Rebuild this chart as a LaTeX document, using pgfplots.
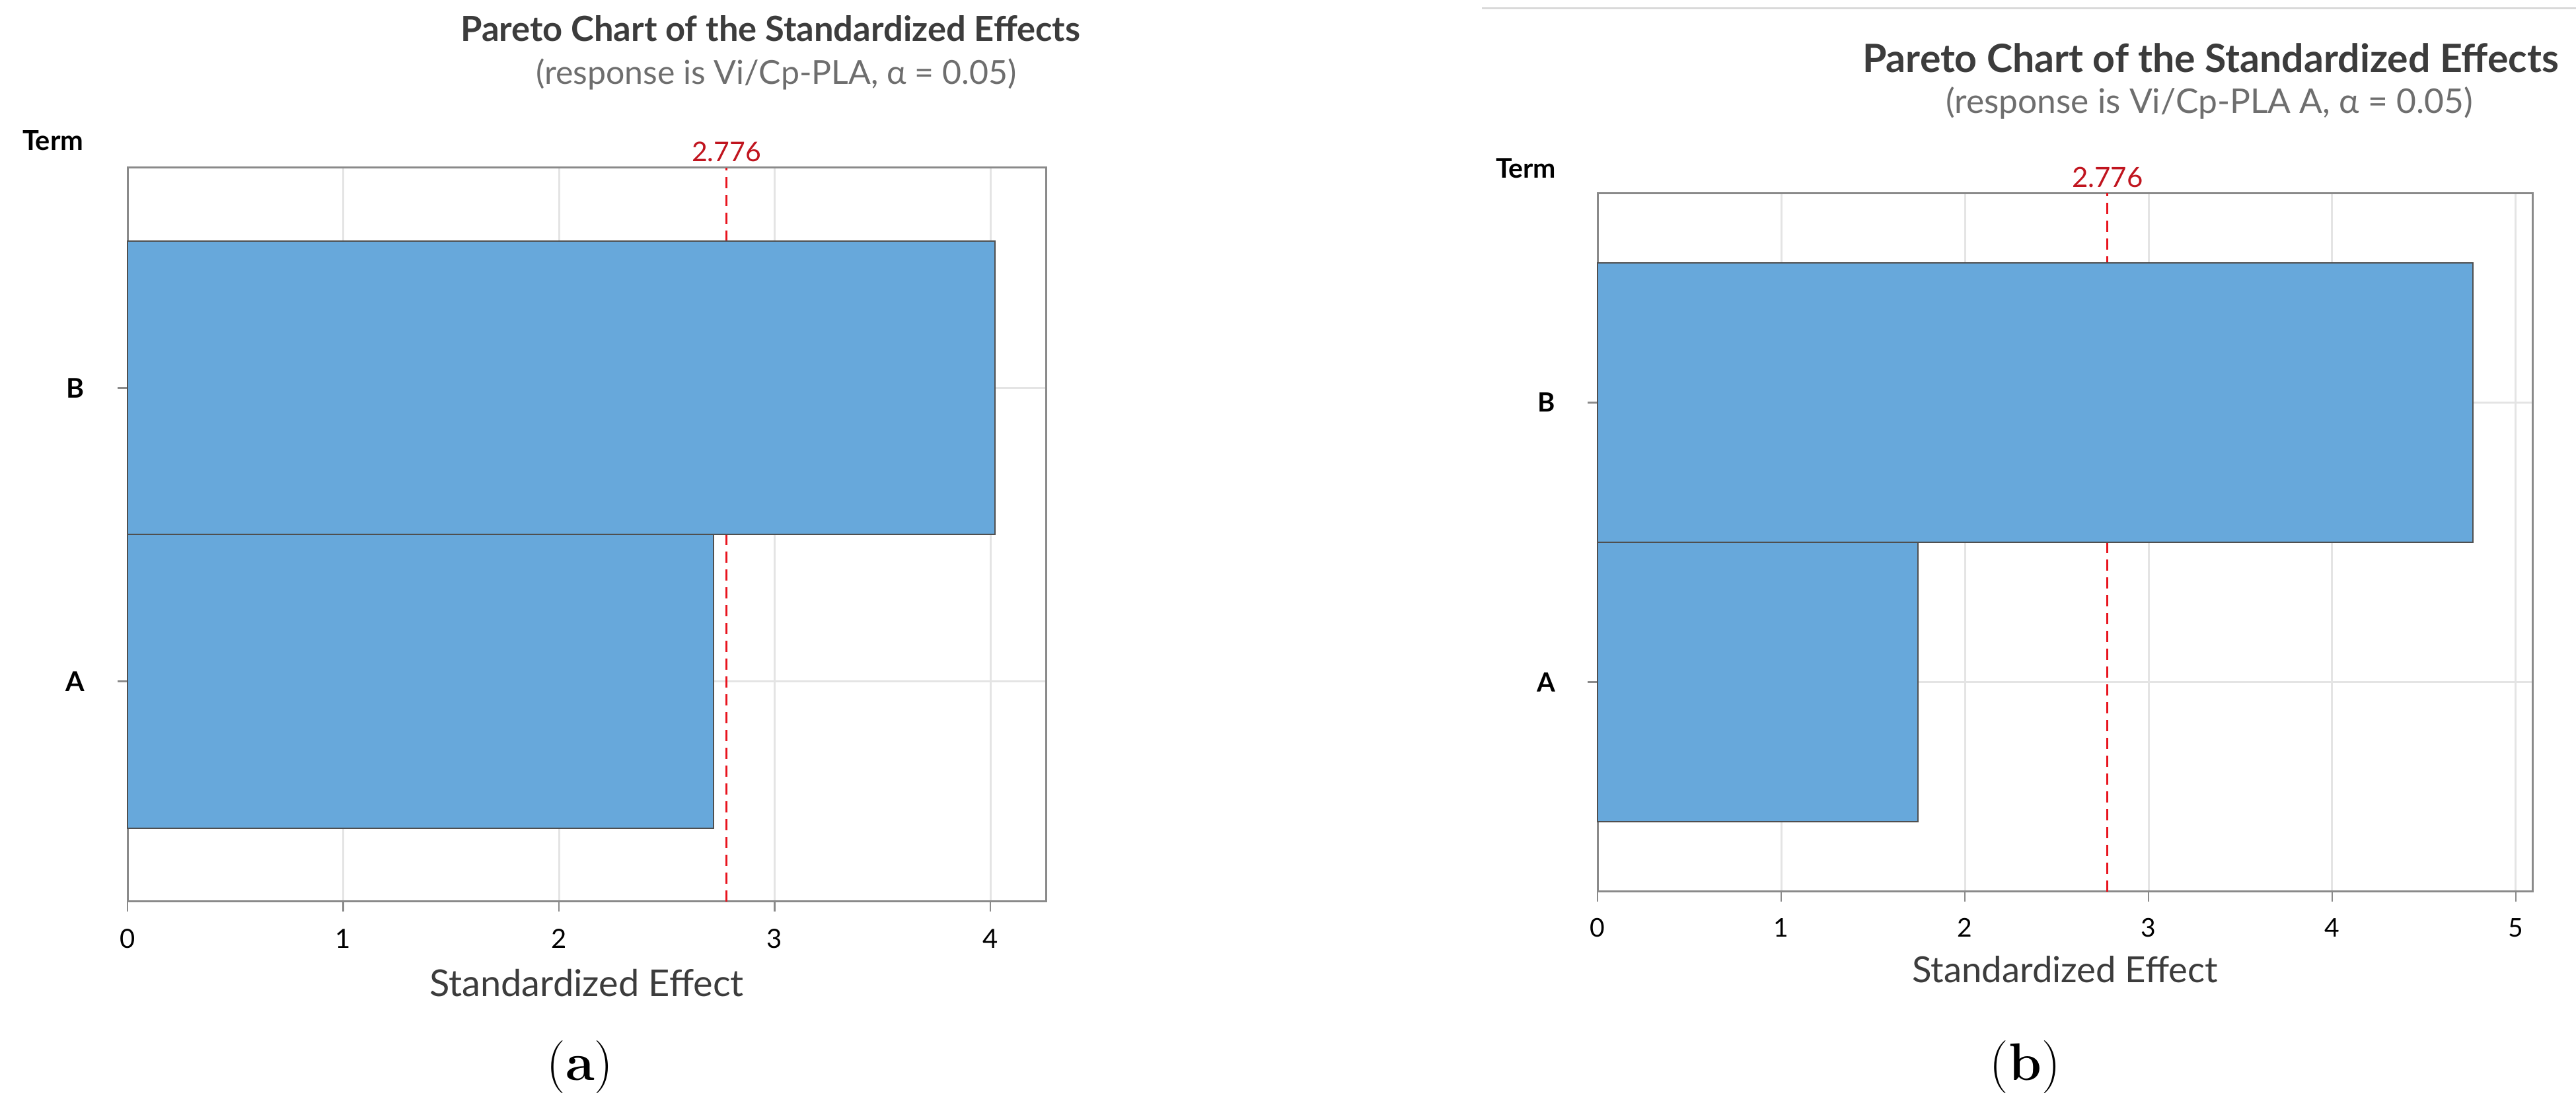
\documentclass[border=0pt]{standalone}
\usepackage{fontspec}
\usepackage{pgfplots}
\pgfplotsset{compat=1.18}
\newfontfamily\lato{Lato}
\definecolor{barblue}{HTML}{67A8DB}
\definecolor{baredge}{HTML}{4F4F4F}
\definecolor{framec}{HTML}{8A8A8A}
\definecolor{gridc}{HTML}{E4E4E4}
\definecolor{titlec}{HTML}{3C3C3C}
\definecolor{subc}{HTML}{6E6E6E}
\definecolor{refred}{HTML}{E8141E}
\definecolor{reflab}{HTML}{C0141E}
\pgfplotsset{pareto/.style={
  scale only axis, xmin=0, ymin=-0.75, ymax=1.75, clip=false,
  ytick={0,1}, yticklabels={A,B},
  xmajorgrids, ymajorgrids,
  major grid style={gridc, line width=0.6pt},
  axis line style={framec, line width=0.6pt},
  tick align=outside, xtick pos=bottom, ytick pos=left,
  major tick length=3pt,
  major tick style={framec, line width=0.5pt},
  /pgf/number format/assume math mode=true,
  xlabel={Standardized Effect},
}}
\begin{document}
\begin{tikzpicture}
\path[use as bounding box] (0pt,0pt) rectangle (779.8pt,-336.4pt);
% ---------- panel (a) ----------
\begin{axis}[pareto, at={(38.6pt,-273pt)}, anchor=south west,
  width=278pt, height=222.2pt, xmax=4.257, xtick={0,1,2,3,4},
  xticklabel style={font=\lato\fontsize{8}{9}\selectfont, text=black, yshift=-1.8pt},
  yticklabel style={font=\lato\bfseries\fontsize{8.2}{9}\selectfont, text=black, xshift=-6.5pt},
  xlabel style={font=\lato\fontsize{11.2}{13}\selectfont, text=titlec, anchor=base, at={(axis description cs:0.5,0)}, yshift=-28.6pt}]
\addplot[refred, line width=0.55pt, dash pattern=on 3.4pt off 2pt] coordinates {(2.776,-0.75) (2.776,1.75)};
\addplot[xbar, bar width=1, bar shift=0pt, fill=barblue, draw=baredge, line width=0.4pt] coordinates {(2.717,0) (4.02,1)};
\node[anchor=base, text=reflab, font=\lato\fontsize{8.2}{9}\selectfont, yshift=1.8pt] at (axis cs:2.776,1.75) {2.776};
\end{axis}
\node[anchor=base, font=\lato\bfseries\fontsize{10.5}{12}\selectfont, text=titlec] at (233.2pt,-12.6pt) {Pareto Chart of the Standardized Effects};
\node[anchor=base, font=\lato\fontsize{10}{12}\selectfont, text=subc] at (235pt,-25.6pt) {(response is Vi/Cp-PLA, α = 0.05)};
\node[anchor=base west, inner sep=0pt, font=\lato\bfseries\fontsize{8.3}{9}\selectfont] at (6.6pt,-45.6pt) {Term};
\node[anchor=base, inner sep=0pt] at (175.6pt,-327pt) {\fontsize{16}{18}\selectfont(\textbf{a})};
% ---------- panel (b) ----------
\draw[black!15, line width=0.6pt] (448.6pt,-2.6pt) -- (779.8pt,-2.6pt);
\begin{axis}[pareto, at={(483.6pt,-270pt)}, anchor=south west,
  width=283pt, height=211.6pt, xmax=5.09, xtick={0,1,2,3,4,5},
  xticklabel style={font=\lato\fontsize{7.8}{9}\selectfont, text=black, yshift=-1.5pt},
  yticklabel style={font=\lato\bfseries\fontsize{8}{9}\selectfont, text=black, xshift=-6.3pt},
  xlabel style={font=\lato\fontsize{10.9}{13}\selectfont, text=titlec, anchor=base, at={(axis description cs:0.5,0)}, yshift=-27.6pt}]
\addplot[refred, line width=0.55pt, dash pattern=on 3.4pt off 2pt] coordinates {(2.776,-0.75) (2.776,1.75)};
\addplot[xbar, bar width=1, bar shift=0pt, fill=barblue, draw=baredge, line width=0.4pt] coordinates {(1.745,0) (4.766,1)};
\node[anchor=base, text=reflab, font=\lato\fontsize{8.4}{9}\selectfont, yshift=1.8pt] at (axis cs:2.776,1.75) {2.776};
\end{axis}
\node[anchor=base, font=\lato\bfseries\fontsize{11.8}{14}\selectfont, text=titlec] at (669.2pt,-22pt) {Pareto Chart of the Standardized Effects};
\node[anchor=base, font=\lato\fontsize{10.3}{12}\selectfont, text=subc] at (668.8pt,-34.4pt) {(response is Vi/Cp-PLA A, α = 0.05)};
\node[anchor=base west, inner sep=0pt, font=\lato\bfseries\fontsize{8.2}{9}\selectfont] at (452.6pt,-54pt) {Term};
\node[anchor=base, inner sep=0pt] at (613pt,-327pt) {\fontsize{16}{18}\selectfont(\textbf{b})};
\end{tikzpicture}
\end{document}
